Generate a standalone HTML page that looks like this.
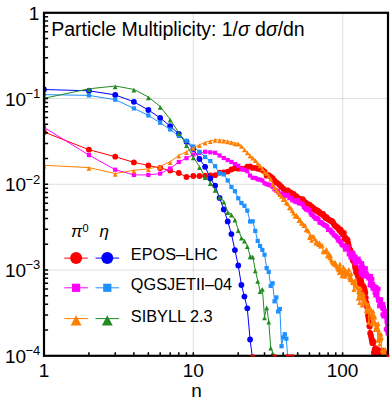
<!DOCTYPE html>
<html><head><meta charset="utf-8"><title>Particle Multiplicity</title>
<style>html,body{margin:0;padding:0;background:#fff;}body{width:390px;height:405px;overflow:hidden;font-family:"Liberation Sans",sans-serif;}</style>
</head><body>
<svg width="390" height="405" viewBox="0 0 390 405" style="display:block;font-family:'Liberation Sans',sans-serif">
<rect width="390" height="405" fill="#fff"/>
<path d="M44.0 98.55H388.0M44.0 184.30H388.0M44.0 270.05H388.0M193.30 12.8V355.8M342.60 12.8V355.8" stroke="#000" stroke-opacity="0.13" stroke-width="1" fill="none"/>
<defs><clipPath id="cp"><rect x="44.0" y="12.8" width="344.0" height="343.0"/></clipPath></defs>
<g clip-path="url(#cp)">
<path d="M44.00 132.00L88.94 149.70L115.23 156.70L133.89 162.40L148.36 165.40L160.18 168.00L170.17 170.50L178.83 173.00L186.47 177.00L193.30 176.00L199.48 176.00L205.12 175.69L210.31 175.40L215.12 175.20L219.59 172.66L223.78 172.49L227.71 171.62L231.41 169.51L234.92 168.26L238.24 168.70L241.41 168.60L244.42 168.82L247.31 166.72L250.07 166.42L252.71 167.89L255.26 167.78L257.70 168.69L260.06 169.11L262.34 170.02L264.53 171.60L266.66 175.63L268.72 175.24L270.71 176.62L272.65 178.07L274.53 180.74L276.36 182.41L278.13 183.58L279.86 185.21L281.55 186.85L283.19 188.53L284.79 190.15L286.35 190.72L287.88 190.36L289.37 193.35L290.82 192.46L292.25 194.26L293.64 193.99L295.01 195.93L296.35 196.06L297.66 197.58L298.94 200.13L300.20 198.79L301.43 200.19L302.65 199.21L303.84 200.95L305.00 202.60L306.15 202.88L307.28 204.11L308.39 204.75L309.48 204.70L310.55 206.77L311.60 206.48L312.64 209.42L313.66 208.19L314.67 209.73L315.66 209.77L316.63 211.10L317.59 210.43L318.54 212.27L319.47 211.92L320.39 213.57L321.30 213.70L322.19 214.04L323.08 214.02L323.95 215.96L324.81 216.42L325.65 218.05L326.49 217.11L327.32 218.53L328.13 219.15L328.94 219.62L329.73 220.21L330.52 220.82L331.29 220.83L332.06 221.12L332.82 222.23L333.57 223.62L334.31 225.03L335.04 225.35L335.77 226.15L336.48 226.67L337.19 227.33L337.89 227.64L338.59 228.82L339.27 230.32L339.95 229.33L340.63 229.73L341.29 232.53L341.95 231.84L342.60 233.74L343.25 234.67L343.88 232.99L344.52 238.88L345.14 239.02L345.76 237.78L346.38 239.60L346.99 239.67L347.59 240.00L348.19 243.00L348.78 245.58L349.37 248.57L349.95 249.74L350.52 250.55L351.10 254.75L351.66 253.28L352.22 257.93L352.78 260.51L353.33 260.08L353.88 259.39L354.42 262.69L354.96 266.45L355.49 268.67L356.02 272.26L356.55 269.10L357.07 272.65L357.59 275.46L358.10 275.08L358.61 271.84L359.11 279.39L359.61 283.67L360.11 282.17L360.60 279.26L361.09 281.22L361.58 283.48L362.06 289.31L362.54 286.14L363.01 285.92L363.48 290.05L363.95 287.23L364.42 293.76L364.88 290.08L365.34 292.73L365.79 297.72L366.24 302.45L366.69 304.35L367.14 307.22L367.58 307.25L368.02 315.33L368.46 318.02L368.89 320.63L369.32 325.91L369.75 326.56L370.17 332.97L370.60 334.56L371.02 335.79L371.43 338.32L371.85 340.48L372.26 342.97L372.67 340.58L373.08 343.22L373.48 342.04L373.88 352.47L374.28 353.30L374.68 349.50L375.07 349.51L375.46 348.14L375.85 353.17L376.24 354.57L376.62 362.09L377.01 357.75L377.39 354.68L377.76 349.56L378.14 361.61L378.51 357.87L378.89 352.23L379.26 357.99L379.62 352.29L379.99 365.67L380.35 361.27L380.71 359.56L381.07 357.16L381.43 350.64L381.78 357.44L382.14 352.65L382.49 360.04L382.84 350.68L383.19 354.97L383.53 362.46L383.88 364.04L384.22 354.12L384.56 352.89L384.90 361.60L385.23 361.59L385.57 354.96L385.90 356.07L386.23 356.11L386.56 354.31L386.89 356.25L387.22 363.58L387.54 361.54L387.87 366.84" stroke="#ff0000" stroke-width="1" fill="none" stroke-linejoin="round"/>
<g><circle cx="44.00" cy="132.00" r="2.90" fill="#ff0000"/><circle cx="88.94" cy="149.70" r="2.90" fill="#ff0000"/><circle cx="115.23" cy="156.70" r="2.90" fill="#ff0000"/><circle cx="133.89" cy="162.40" r="2.90" fill="#ff0000"/><circle cx="148.36" cy="165.40" r="2.90" fill="#ff0000"/><circle cx="160.18" cy="168.00" r="2.90" fill="#ff0000"/><circle cx="170.17" cy="170.50" r="2.90" fill="#ff0000"/><circle cx="178.83" cy="173.00" r="2.90" fill="#ff0000"/><circle cx="186.47" cy="177.00" r="2.90" fill="#ff0000"/><circle cx="193.30" cy="176.00" r="2.90" fill="#ff0000"/><circle cx="199.48" cy="176.00" r="2.90" fill="#ff0000"/><circle cx="205.12" cy="175.69" r="2.90" fill="#ff0000"/><circle cx="210.31" cy="175.40" r="2.90" fill="#ff0000"/><circle cx="215.12" cy="175.20" r="2.90" fill="#ff0000"/><circle cx="219.59" cy="172.66" r="2.90" fill="#ff0000"/><circle cx="223.78" cy="172.49" r="2.90" fill="#ff0000"/><circle cx="227.71" cy="171.62" r="2.90" fill="#ff0000"/><circle cx="231.41" cy="169.51" r="2.90" fill="#ff0000"/><circle cx="234.92" cy="168.26" r="2.90" fill="#ff0000"/><circle cx="238.24" cy="168.70" r="2.90" fill="#ff0000"/><circle cx="241.41" cy="168.60" r="2.90" fill="#ff0000"/><circle cx="244.42" cy="168.82" r="2.90" fill="#ff0000"/><circle cx="247.31" cy="166.72" r="2.90" fill="#ff0000"/><circle cx="250.07" cy="166.42" r="2.90" fill="#ff0000"/><circle cx="252.71" cy="167.89" r="2.90" fill="#ff0000"/><circle cx="255.26" cy="167.78" r="2.90" fill="#ff0000"/><circle cx="257.70" cy="168.69" r="2.90" fill="#ff0000"/><circle cx="260.06" cy="169.11" r="2.90" fill="#ff0000"/><circle cx="262.34" cy="170.02" r="2.90" fill="#ff0000"/><circle cx="264.53" cy="171.60" r="2.90" fill="#ff0000"/><circle cx="266.66" cy="175.63" r="2.90" fill="#ff0000"/><circle cx="268.72" cy="175.24" r="2.90" fill="#ff0000"/><circle cx="270.71" cy="176.62" r="2.90" fill="#ff0000"/><circle cx="272.65" cy="178.07" r="2.90" fill="#ff0000"/><circle cx="274.53" cy="180.74" r="2.90" fill="#ff0000"/><circle cx="276.36" cy="182.41" r="2.90" fill="#ff0000"/><circle cx="278.13" cy="183.58" r="2.90" fill="#ff0000"/><circle cx="279.86" cy="185.21" r="2.90" fill="#ff0000"/><circle cx="281.55" cy="186.85" r="2.90" fill="#ff0000"/><circle cx="283.19" cy="188.53" r="2.90" fill="#ff0000"/><circle cx="284.79" cy="190.15" r="2.90" fill="#ff0000"/><circle cx="286.35" cy="190.72" r="2.90" fill="#ff0000"/><circle cx="287.88" cy="190.36" r="2.90" fill="#ff0000"/><circle cx="289.37" cy="193.35" r="2.90" fill="#ff0000"/><circle cx="290.82" cy="192.46" r="2.90" fill="#ff0000"/><circle cx="292.25" cy="194.26" r="2.90" fill="#ff0000"/><circle cx="293.64" cy="193.99" r="2.90" fill="#ff0000"/><circle cx="295.01" cy="195.93" r="2.90" fill="#ff0000"/><circle cx="296.35" cy="196.06" r="2.90" fill="#ff0000"/><circle cx="297.66" cy="197.58" r="2.90" fill="#ff0000"/><circle cx="298.94" cy="200.13" r="2.90" fill="#ff0000"/><circle cx="300.20" cy="198.79" r="2.90" fill="#ff0000"/><circle cx="301.43" cy="200.19" r="2.90" fill="#ff0000"/><circle cx="302.65" cy="199.21" r="2.90" fill="#ff0000"/><circle cx="303.84" cy="200.95" r="2.90" fill="#ff0000"/><circle cx="305.00" cy="202.60" r="2.90" fill="#ff0000"/><circle cx="306.15" cy="202.88" r="2.90" fill="#ff0000"/><circle cx="307.28" cy="204.11" r="2.90" fill="#ff0000"/><circle cx="308.39" cy="204.75" r="2.90" fill="#ff0000"/><circle cx="309.48" cy="204.70" r="2.90" fill="#ff0000"/><circle cx="310.55" cy="206.77" r="2.90" fill="#ff0000"/><circle cx="311.60" cy="206.48" r="2.90" fill="#ff0000"/><circle cx="312.64" cy="209.42" r="2.90" fill="#ff0000"/><circle cx="313.66" cy="208.19" r="2.90" fill="#ff0000"/><circle cx="314.67" cy="209.73" r="2.90" fill="#ff0000"/><circle cx="315.66" cy="209.77" r="2.90" fill="#ff0000"/><circle cx="316.63" cy="211.10" r="2.90" fill="#ff0000"/><circle cx="317.59" cy="210.43" r="2.90" fill="#ff0000"/><circle cx="318.54" cy="212.27" r="2.90" fill="#ff0000"/><circle cx="319.47" cy="211.92" r="2.90" fill="#ff0000"/><circle cx="320.39" cy="213.57" r="2.90" fill="#ff0000"/><circle cx="321.30" cy="213.70" r="2.90" fill="#ff0000"/><circle cx="322.19" cy="214.04" r="2.90" fill="#ff0000"/><circle cx="323.08" cy="214.02" r="2.90" fill="#ff0000"/><circle cx="323.95" cy="215.96" r="2.90" fill="#ff0000"/><circle cx="324.81" cy="216.42" r="2.90" fill="#ff0000"/><circle cx="325.65" cy="218.05" r="2.90" fill="#ff0000"/><circle cx="326.49" cy="217.11" r="2.90" fill="#ff0000"/><circle cx="327.32" cy="218.53" r="2.90" fill="#ff0000"/><circle cx="328.13" cy="219.15" r="2.90" fill="#ff0000"/><circle cx="328.94" cy="219.62" r="2.90" fill="#ff0000"/><circle cx="329.73" cy="220.21" r="2.90" fill="#ff0000"/><circle cx="330.52" cy="220.82" r="2.90" fill="#ff0000"/><circle cx="331.29" cy="220.83" r="2.90" fill="#ff0000"/><circle cx="332.06" cy="221.12" r="2.90" fill="#ff0000"/><circle cx="332.82" cy="222.23" r="2.90" fill="#ff0000"/><circle cx="333.57" cy="223.62" r="2.90" fill="#ff0000"/><circle cx="334.31" cy="225.03" r="2.90" fill="#ff0000"/><circle cx="335.04" cy="225.35" r="2.90" fill="#ff0000"/><circle cx="335.77" cy="226.15" r="2.90" fill="#ff0000"/><circle cx="336.48" cy="226.67" r="2.90" fill="#ff0000"/><circle cx="337.19" cy="227.33" r="2.90" fill="#ff0000"/><circle cx="337.89" cy="227.64" r="2.90" fill="#ff0000"/><circle cx="338.59" cy="228.82" r="2.90" fill="#ff0000"/><circle cx="339.27" cy="230.32" r="2.90" fill="#ff0000"/><circle cx="339.95" cy="229.33" r="2.90" fill="#ff0000"/><circle cx="340.63" cy="229.73" r="2.90" fill="#ff0000"/><circle cx="341.29" cy="232.53" r="2.90" fill="#ff0000"/><circle cx="341.95" cy="231.84" r="2.90" fill="#ff0000"/><circle cx="342.60" cy="233.74" r="2.90" fill="#ff0000"/><circle cx="343.25" cy="234.67" r="2.90" fill="#ff0000"/><circle cx="343.88" cy="232.99" r="2.90" fill="#ff0000"/><circle cx="344.52" cy="238.88" r="2.90" fill="#ff0000"/><circle cx="345.14" cy="239.02" r="2.90" fill="#ff0000"/><circle cx="345.76" cy="237.78" r="2.90" fill="#ff0000"/><circle cx="346.38" cy="239.60" r="2.90" fill="#ff0000"/><circle cx="346.99" cy="239.67" r="2.90" fill="#ff0000"/><circle cx="347.59" cy="240.00" r="2.90" fill="#ff0000"/><circle cx="348.19" cy="243.00" r="2.90" fill="#ff0000"/><circle cx="348.78" cy="245.58" r="2.90" fill="#ff0000"/><circle cx="349.37" cy="248.57" r="2.90" fill="#ff0000"/><circle cx="349.95" cy="249.74" r="2.90" fill="#ff0000"/><circle cx="350.52" cy="250.55" r="2.90" fill="#ff0000"/><circle cx="351.10" cy="254.75" r="2.90" fill="#ff0000"/><circle cx="351.66" cy="253.28" r="2.90" fill="#ff0000"/><circle cx="352.22" cy="257.93" r="2.90" fill="#ff0000"/><circle cx="352.78" cy="260.51" r="2.90" fill="#ff0000"/><circle cx="353.33" cy="260.08" r="2.90" fill="#ff0000"/><circle cx="353.88" cy="259.39" r="2.90" fill="#ff0000"/><circle cx="354.42" cy="262.69" r="2.90" fill="#ff0000"/><circle cx="354.96" cy="266.45" r="2.90" fill="#ff0000"/><circle cx="355.49" cy="268.67" r="2.90" fill="#ff0000"/><circle cx="356.02" cy="272.26" r="2.90" fill="#ff0000"/><circle cx="356.55" cy="269.10" r="2.90" fill="#ff0000"/><circle cx="357.07" cy="272.65" r="2.90" fill="#ff0000"/><circle cx="357.59" cy="275.46" r="2.90" fill="#ff0000"/><circle cx="358.10" cy="275.08" r="2.90" fill="#ff0000"/><circle cx="358.61" cy="271.84" r="2.90" fill="#ff0000"/><circle cx="359.11" cy="279.39" r="2.90" fill="#ff0000"/><circle cx="359.61" cy="283.67" r="2.90" fill="#ff0000"/><circle cx="360.11" cy="282.17" r="2.90" fill="#ff0000"/><circle cx="360.60" cy="279.26" r="2.90" fill="#ff0000"/><circle cx="361.09" cy="281.22" r="2.90" fill="#ff0000"/><circle cx="361.58" cy="283.48" r="2.90" fill="#ff0000"/><circle cx="362.06" cy="289.31" r="2.90" fill="#ff0000"/><circle cx="362.54" cy="286.14" r="2.90" fill="#ff0000"/><circle cx="363.01" cy="285.92" r="2.90" fill="#ff0000"/><circle cx="363.48" cy="290.05" r="2.90" fill="#ff0000"/><circle cx="363.95" cy="287.23" r="2.90" fill="#ff0000"/><circle cx="364.42" cy="293.76" r="2.90" fill="#ff0000"/><circle cx="364.88" cy="290.08" r="2.90" fill="#ff0000"/><circle cx="365.34" cy="292.73" r="2.90" fill="#ff0000"/><circle cx="365.79" cy="297.72" r="2.90" fill="#ff0000"/><circle cx="366.24" cy="302.45" r="2.90" fill="#ff0000"/><circle cx="366.69" cy="304.35" r="2.90" fill="#ff0000"/><circle cx="367.14" cy="307.22" r="2.90" fill="#ff0000"/><circle cx="367.58" cy="307.25" r="2.90" fill="#ff0000"/><circle cx="368.02" cy="315.33" r="2.90" fill="#ff0000"/><circle cx="368.46" cy="318.02" r="2.90" fill="#ff0000"/><circle cx="368.89" cy="320.63" r="2.90" fill="#ff0000"/><circle cx="369.32" cy="325.91" r="2.90" fill="#ff0000"/><circle cx="369.75" cy="326.56" r="2.90" fill="#ff0000"/><circle cx="370.17" cy="332.97" r="2.90" fill="#ff0000"/><circle cx="370.60" cy="334.56" r="2.90" fill="#ff0000"/><circle cx="371.02" cy="335.79" r="2.90" fill="#ff0000"/><circle cx="371.43" cy="338.32" r="2.90" fill="#ff0000"/><circle cx="371.85" cy="340.48" r="2.90" fill="#ff0000"/><circle cx="372.26" cy="342.97" r="2.90" fill="#ff0000"/><circle cx="372.67" cy="340.58" r="2.90" fill="#ff0000"/><circle cx="373.08" cy="343.22" r="2.90" fill="#ff0000"/><circle cx="373.48" cy="342.04" r="2.90" fill="#ff0000"/><circle cx="373.88" cy="352.47" r="2.90" fill="#ff0000"/><circle cx="374.28" cy="353.30" r="2.90" fill="#ff0000"/><circle cx="374.68" cy="349.50" r="2.90" fill="#ff0000"/><circle cx="375.07" cy="349.51" r="2.90" fill="#ff0000"/><circle cx="375.46" cy="348.14" r="2.90" fill="#ff0000"/><circle cx="375.85" cy="353.17" r="2.90" fill="#ff0000"/><circle cx="376.24" cy="354.57" r="2.90" fill="#ff0000"/><circle cx="376.62" cy="362.09" r="2.90" fill="#ff0000"/><circle cx="377.01" cy="357.75" r="2.90" fill="#ff0000"/><circle cx="377.39" cy="354.68" r="2.90" fill="#ff0000"/><circle cx="377.76" cy="349.56" r="2.90" fill="#ff0000"/><circle cx="378.14" cy="361.61" r="2.90" fill="#ff0000"/><circle cx="378.51" cy="357.87" r="2.90" fill="#ff0000"/><circle cx="378.89" cy="352.23" r="2.90" fill="#ff0000"/><circle cx="379.26" cy="357.99" r="2.90" fill="#ff0000"/><circle cx="379.62" cy="352.29" r="2.90" fill="#ff0000"/><circle cx="379.99" cy="365.67" r="2.90" fill="#ff0000"/><circle cx="380.35" cy="361.27" r="2.90" fill="#ff0000"/><circle cx="380.71" cy="359.56" r="2.90" fill="#ff0000"/><circle cx="381.07" cy="357.16" r="2.90" fill="#ff0000"/><circle cx="381.43" cy="350.64" r="2.90" fill="#ff0000"/><circle cx="381.78" cy="357.44" r="2.90" fill="#ff0000"/><circle cx="382.14" cy="352.65" r="2.90" fill="#ff0000"/><circle cx="382.49" cy="360.04" r="2.90" fill="#ff0000"/><circle cx="382.84" cy="350.68" r="2.90" fill="#ff0000"/><circle cx="383.19" cy="354.97" r="2.90" fill="#ff0000"/><circle cx="383.53" cy="362.46" r="2.90" fill="#ff0000"/><circle cx="383.88" cy="364.04" r="2.90" fill="#ff0000"/><circle cx="384.22" cy="354.12" r="2.90" fill="#ff0000"/><circle cx="384.56" cy="352.89" r="2.90" fill="#ff0000"/><circle cx="384.90" cy="361.60" r="2.90" fill="#ff0000"/><circle cx="385.23" cy="361.59" r="2.90" fill="#ff0000"/><circle cx="385.57" cy="354.96" r="2.90" fill="#ff0000"/><circle cx="385.90" cy="356.07" r="2.90" fill="#ff0000"/><circle cx="386.23" cy="356.11" r="2.90" fill="#ff0000"/><circle cx="386.56" cy="354.31" r="2.90" fill="#ff0000"/><circle cx="386.89" cy="356.25" r="2.90" fill="#ff0000"/><circle cx="387.22" cy="363.58" r="2.90" fill="#ff0000"/><circle cx="387.54" cy="361.54" r="2.90" fill="#ff0000"/><circle cx="387.87" cy="366.84" r="2.90" fill="#ff0000"/></g>
<path d="M44.00 89.50L88.94 90.80L115.23 94.90L133.89 101.80L148.36 110.00L160.18 117.90L170.17 126.20L178.83 133.80L186.47 141.70L193.30 148.90L199.48 159.00L205.12 166.80L210.31 178.50L215.12 185.60L219.59 197.90L223.78 209.40L227.71 221.40L231.41 234.10L234.92 250.10L238.24 265.50L241.41 285.00L244.42 296.60L247.31 308.30L250.07 339.50L252.71 360.00" stroke="#0000ff" stroke-width="1" fill="none" stroke-linejoin="round"/>
<g><circle cx="44.00" cy="89.50" r="2.90" fill="#0000ff"/><circle cx="88.94" cy="90.80" r="2.90" fill="#0000ff"/><circle cx="115.23" cy="94.90" r="2.90" fill="#0000ff"/><circle cx="133.89" cy="101.80" r="2.90" fill="#0000ff"/><circle cx="148.36" cy="110.00" r="2.90" fill="#0000ff"/><circle cx="160.18" cy="117.90" r="2.90" fill="#0000ff"/><circle cx="170.17" cy="126.20" r="2.90" fill="#0000ff"/><circle cx="178.83" cy="133.80" r="2.90" fill="#0000ff"/><circle cx="186.47" cy="141.70" r="2.90" fill="#0000ff"/><circle cx="193.30" cy="148.90" r="2.90" fill="#0000ff"/><circle cx="199.48" cy="159.00" r="2.90" fill="#0000ff"/><circle cx="205.12" cy="166.80" r="2.90" fill="#0000ff"/><circle cx="210.31" cy="178.50" r="2.90" fill="#0000ff"/><circle cx="215.12" cy="185.60" r="2.90" fill="#0000ff"/><circle cx="219.59" cy="197.90" r="2.90" fill="#0000ff"/><circle cx="223.78" cy="209.40" r="2.90" fill="#0000ff"/><circle cx="227.71" cy="221.40" r="2.90" fill="#0000ff"/><circle cx="231.41" cy="234.10" r="2.90" fill="#0000ff"/><circle cx="234.92" cy="250.10" r="2.90" fill="#0000ff"/><circle cx="238.24" cy="265.50" r="2.90" fill="#0000ff"/><circle cx="241.41" cy="285.00" r="2.90" fill="#0000ff"/><circle cx="244.42" cy="296.60" r="2.90" fill="#0000ff"/><circle cx="247.31" cy="308.30" r="2.90" fill="#0000ff"/><circle cx="250.07" cy="339.50" r="2.90" fill="#0000ff"/><circle cx="252.71" cy="360.00" r="2.90" fill="#0000ff"/></g>
<path d="M44.00 127.40L88.94 155.10L115.23 169.70L133.89 174.90L148.36 174.90L160.18 173.60L170.17 168.50L178.83 162.00L186.47 158.20L193.30 154.50L199.48 153.09L205.12 151.80L210.31 152.32L215.12 152.80L219.59 155.49L223.78 158.00L227.71 160.06L231.41 161.92L234.92 164.09L238.24 165.76L241.41 169.01L244.42 169.82L247.31 171.26L250.07 175.55L252.71 177.76L255.26 178.04L257.70 179.38L260.06 179.63L262.34 180.54L264.53 183.17L266.66 184.21L268.72 184.74L270.71 185.39L272.65 186.80L274.53 189.38L276.36 190.59L278.13 190.99L279.86 193.89L281.55 193.57L283.19 194.76L284.79 196.17L286.35 195.15L287.88 194.90L289.37 198.15L290.82 197.66L292.25 200.24L293.64 200.14L295.01 201.49L296.35 202.01L297.66 200.17L298.94 203.40L300.20 202.84L301.43 203.44L302.65 204.57L303.84 206.90L305.00 208.23L306.15 209.54L307.28 208.32L308.39 210.44L309.48 209.98L310.55 213.14L311.60 214.88L312.64 214.74L313.66 216.55L314.67 217.33L315.66 218.82L316.63 217.95L317.59 218.71L318.54 219.52L319.47 222.52L320.39 222.66L321.30 222.32L322.19 223.42L323.08 224.08L323.95 224.92L324.81 225.30L325.65 225.92L326.49 225.82L327.32 227.09L328.13 229.86L328.94 229.56L329.73 229.83L330.52 230.43L331.29 231.61L332.06 232.79L332.82 232.80L333.57 234.46L334.31 235.39L335.04 235.38L335.77 236.21L336.48 236.88L337.19 237.68L337.89 240.27L338.59 238.18L339.27 240.89L339.95 241.39L340.63 242.13L341.29 243.51L341.95 245.16L342.60 245.02L343.25 245.29L343.88 245.02L344.52 246.71L345.14 249.60L345.76 247.51L346.38 246.53L346.99 246.91L347.59 247.89L348.19 247.92L348.78 254.32L349.37 253.34L349.95 252.66L350.52 257.41L351.10 253.03L351.66 257.16L352.22 257.99L352.78 252.80L353.33 253.40L353.88 255.64L354.42 261.04L354.96 262.75L355.49 256.73L356.02 263.47L356.55 260.27L357.07 260.88L357.59 261.07L358.10 262.34L358.61 258.72L359.11 261.64L359.61 261.56L360.11 267.20L360.60 272.60L361.09 274.56L361.58 266.74L362.06 263.16L362.54 267.82L363.01 266.80L363.48 276.60L363.95 272.82L364.42 269.32L364.88 275.31L365.34 274.66L365.79 268.27L366.24 272.56L366.69 274.23L367.14 275.79L367.58 276.87L368.02 275.94L368.46 278.45L368.89 276.42L369.32 275.99L369.75 285.22L370.17 281.78L370.60 282.75L371.02 276.04L371.43 281.94L371.85 286.29L372.26 279.10L372.67 288.75L373.08 283.81L373.48 287.51L373.88 286.12L374.28 288.15L374.68 292.68L375.07 287.02L375.46 295.50L375.85 286.96L376.24 287.24L376.62 294.81L377.01 288.45L377.39 292.19L377.76 298.38L378.14 300.57L378.51 288.89L378.89 299.41L379.26 306.26L379.62 304.66L379.99 299.77L380.35 299.49L380.71 302.10L381.07 299.58L381.43 304.78L381.78 306.39L382.14 307.66L382.49 314.53L382.84 308.92L383.19 304.07L383.53 316.48L383.88 307.40L384.22 311.12L384.56 313.39L384.90 313.18L385.23 310.80L385.57 315.71L385.90 329.30L386.23 317.53L386.56 321.60L386.89 329.59L387.22 329.49L387.54 331.36L387.87 333.62" stroke="#ff00ff" stroke-width="1" fill="none" stroke-linejoin="round"/>
<g><rect x="41.90" y="125.30" width="4.20" height="4.20" fill="#ff00ff"/><rect x="86.84" y="153.00" width="4.20" height="4.20" fill="#ff00ff"/><rect x="113.13" y="167.60" width="4.20" height="4.20" fill="#ff00ff"/><rect x="131.79" y="172.80" width="4.20" height="4.20" fill="#ff00ff"/><rect x="146.26" y="172.80" width="4.20" height="4.20" fill="#ff00ff"/><rect x="158.08" y="171.50" width="4.20" height="4.20" fill="#ff00ff"/><rect x="168.07" y="166.40" width="4.20" height="4.20" fill="#ff00ff"/><rect x="176.73" y="159.90" width="4.20" height="4.20" fill="#ff00ff"/><rect x="184.37" y="156.10" width="4.20" height="4.20" fill="#ff00ff"/><rect x="191.20" y="152.40" width="4.20" height="4.20" fill="#ff00ff"/><rect x="197.38" y="150.99" width="4.20" height="4.20" fill="#ff00ff"/><rect x="203.02" y="149.70" width="4.20" height="4.20" fill="#ff00ff"/><rect x="208.21" y="150.22" width="4.20" height="4.20" fill="#ff00ff"/><rect x="213.02" y="150.70" width="4.20" height="4.20" fill="#ff00ff"/><rect x="217.49" y="153.39" width="4.20" height="4.20" fill="#ff00ff"/><rect x="221.68" y="155.90" width="4.20" height="4.20" fill="#ff00ff"/><rect x="225.61" y="157.96" width="4.20" height="4.20" fill="#ff00ff"/><rect x="229.31" y="159.82" width="4.20" height="4.20" fill="#ff00ff"/><rect x="232.82" y="161.99" width="4.20" height="4.20" fill="#ff00ff"/><rect x="236.14" y="163.66" width="4.20" height="4.20" fill="#ff00ff"/><rect x="239.31" y="166.91" width="4.20" height="4.20" fill="#ff00ff"/><rect x="242.32" y="167.72" width="4.20" height="4.20" fill="#ff00ff"/><rect x="245.21" y="169.16" width="4.20" height="4.20" fill="#ff00ff"/><rect x="247.97" y="173.45" width="4.20" height="4.20" fill="#ff00ff"/><rect x="250.61" y="175.66" width="4.20" height="4.20" fill="#ff00ff"/><rect x="253.16" y="175.94" width="4.20" height="4.20" fill="#ff00ff"/><rect x="255.60" y="177.28" width="4.20" height="4.20" fill="#ff00ff"/><rect x="257.96" y="177.53" width="4.20" height="4.20" fill="#ff00ff"/><rect x="260.24" y="178.44" width="4.20" height="4.20" fill="#ff00ff"/><rect x="262.43" y="181.07" width="4.20" height="4.20" fill="#ff00ff"/><rect x="264.56" y="182.11" width="4.20" height="4.20" fill="#ff00ff"/><rect x="266.62" y="182.64" width="4.20" height="4.20" fill="#ff00ff"/><rect x="268.61" y="183.29" width="4.20" height="4.20" fill="#ff00ff"/><rect x="270.55" y="184.70" width="4.20" height="4.20" fill="#ff00ff"/><rect x="272.43" y="187.28" width="4.20" height="4.20" fill="#ff00ff"/><rect x="274.26" y="188.49" width="4.20" height="4.20" fill="#ff00ff"/><rect x="276.03" y="188.89" width="4.20" height="4.20" fill="#ff00ff"/><rect x="277.76" y="191.79" width="4.20" height="4.20" fill="#ff00ff"/><rect x="279.45" y="191.47" width="4.20" height="4.20" fill="#ff00ff"/><rect x="281.09" y="192.66" width="4.20" height="4.20" fill="#ff00ff"/><rect x="282.69" y="194.07" width="4.20" height="4.20" fill="#ff00ff"/><rect x="284.25" y="193.05" width="4.20" height="4.20" fill="#ff00ff"/><rect x="285.78" y="192.80" width="4.20" height="4.20" fill="#ff00ff"/><rect x="287.27" y="196.05" width="4.20" height="4.20" fill="#ff00ff"/><rect x="288.72" y="195.56" width="4.20" height="4.20" fill="#ff00ff"/><rect x="290.15" y="198.14" width="4.20" height="4.20" fill="#ff00ff"/><rect x="291.54" y="198.04" width="4.20" height="4.20" fill="#ff00ff"/><rect x="292.91" y="199.39" width="4.20" height="4.20" fill="#ff00ff"/><rect x="294.25" y="199.91" width="4.20" height="4.20" fill="#ff00ff"/><rect x="295.56" y="198.07" width="4.20" height="4.20" fill="#ff00ff"/><rect x="296.84" y="201.30" width="4.20" height="4.20" fill="#ff00ff"/><rect x="298.10" y="200.74" width="4.20" height="4.20" fill="#ff00ff"/><rect x="299.33" y="201.34" width="4.20" height="4.20" fill="#ff00ff"/><rect x="300.55" y="202.47" width="4.20" height="4.20" fill="#ff00ff"/><rect x="301.74" y="204.80" width="4.20" height="4.20" fill="#ff00ff"/><rect x="302.90" y="206.13" width="4.20" height="4.20" fill="#ff00ff"/><rect x="304.05" y="207.44" width="4.20" height="4.20" fill="#ff00ff"/><rect x="305.18" y="206.22" width="4.20" height="4.20" fill="#ff00ff"/><rect x="306.29" y="208.34" width="4.20" height="4.20" fill="#ff00ff"/><rect x="307.38" y="207.88" width="4.20" height="4.20" fill="#ff00ff"/><rect x="308.45" y="211.04" width="4.20" height="4.20" fill="#ff00ff"/><rect x="309.50" y="212.78" width="4.20" height="4.20" fill="#ff00ff"/><rect x="310.54" y="212.64" width="4.20" height="4.20" fill="#ff00ff"/><rect x="311.56" y="214.45" width="4.20" height="4.20" fill="#ff00ff"/><rect x="312.57" y="215.23" width="4.20" height="4.20" fill="#ff00ff"/><rect x="313.56" y="216.72" width="4.20" height="4.20" fill="#ff00ff"/><rect x="314.53" y="215.85" width="4.20" height="4.20" fill="#ff00ff"/><rect x="315.49" y="216.61" width="4.20" height="4.20" fill="#ff00ff"/><rect x="316.44" y="217.42" width="4.20" height="4.20" fill="#ff00ff"/><rect x="317.37" y="220.42" width="4.20" height="4.20" fill="#ff00ff"/><rect x="318.29" y="220.56" width="4.20" height="4.20" fill="#ff00ff"/><rect x="319.20" y="220.22" width="4.20" height="4.20" fill="#ff00ff"/><rect x="320.09" y="221.32" width="4.20" height="4.20" fill="#ff00ff"/><rect x="320.98" y="221.98" width="4.20" height="4.20" fill="#ff00ff"/><rect x="321.85" y="222.82" width="4.20" height="4.20" fill="#ff00ff"/><rect x="322.71" y="223.20" width="4.20" height="4.20" fill="#ff00ff"/><rect x="323.55" y="223.82" width="4.20" height="4.20" fill="#ff00ff"/><rect x="324.39" y="223.72" width="4.20" height="4.20" fill="#ff00ff"/><rect x="325.22" y="224.99" width="4.20" height="4.20" fill="#ff00ff"/><rect x="326.03" y="227.76" width="4.20" height="4.20" fill="#ff00ff"/><rect x="326.84" y="227.46" width="4.20" height="4.20" fill="#ff00ff"/><rect x="327.63" y="227.73" width="4.20" height="4.20" fill="#ff00ff"/><rect x="328.42" y="228.33" width="4.20" height="4.20" fill="#ff00ff"/><rect x="329.19" y="229.51" width="4.20" height="4.20" fill="#ff00ff"/><rect x="329.96" y="230.69" width="4.20" height="4.20" fill="#ff00ff"/><rect x="330.72" y="230.70" width="4.20" height="4.20" fill="#ff00ff"/><rect x="331.47" y="232.36" width="4.20" height="4.20" fill="#ff00ff"/><rect x="332.21" y="233.29" width="4.20" height="4.20" fill="#ff00ff"/><rect x="332.94" y="233.28" width="4.20" height="4.20" fill="#ff00ff"/><rect x="333.67" y="234.11" width="4.20" height="4.20" fill="#ff00ff"/><rect x="334.38" y="234.78" width="4.20" height="4.20" fill="#ff00ff"/><rect x="335.09" y="235.58" width="4.20" height="4.20" fill="#ff00ff"/><rect x="335.79" y="238.17" width="4.20" height="4.20" fill="#ff00ff"/><rect x="336.49" y="236.08" width="4.20" height="4.20" fill="#ff00ff"/><rect x="337.17" y="238.79" width="4.20" height="4.20" fill="#ff00ff"/><rect x="337.85" y="239.29" width="4.20" height="4.20" fill="#ff00ff"/><rect x="338.53" y="240.03" width="4.20" height="4.20" fill="#ff00ff"/><rect x="339.19" y="241.41" width="4.20" height="4.20" fill="#ff00ff"/><rect x="339.85" y="243.06" width="4.20" height="4.20" fill="#ff00ff"/><rect x="340.50" y="242.92" width="4.20" height="4.20" fill="#ff00ff"/><rect x="341.15" y="243.19" width="4.20" height="4.20" fill="#ff00ff"/><rect x="341.78" y="242.92" width="4.20" height="4.20" fill="#ff00ff"/><rect x="342.42" y="244.61" width="4.20" height="4.20" fill="#ff00ff"/><rect x="343.04" y="247.50" width="4.20" height="4.20" fill="#ff00ff"/><rect x="343.66" y="245.41" width="4.20" height="4.20" fill="#ff00ff"/><rect x="344.28" y="244.43" width="4.20" height="4.20" fill="#ff00ff"/><rect x="344.89" y="244.81" width="4.20" height="4.20" fill="#ff00ff"/><rect x="345.49" y="245.79" width="4.20" height="4.20" fill="#ff00ff"/><rect x="346.09" y="245.82" width="4.20" height="4.20" fill="#ff00ff"/><rect x="346.68" y="252.22" width="4.20" height="4.20" fill="#ff00ff"/><rect x="347.27" y="251.24" width="4.20" height="4.20" fill="#ff00ff"/><rect x="347.85" y="250.56" width="4.20" height="4.20" fill="#ff00ff"/><rect x="348.42" y="255.31" width="4.20" height="4.20" fill="#ff00ff"/><rect x="349.00" y="250.93" width="4.20" height="4.20" fill="#ff00ff"/><rect x="349.56" y="255.06" width="4.20" height="4.20" fill="#ff00ff"/><rect x="350.12" y="255.89" width="4.20" height="4.20" fill="#ff00ff"/><rect x="350.68" y="250.70" width="4.20" height="4.20" fill="#ff00ff"/><rect x="351.23" y="251.30" width="4.20" height="4.20" fill="#ff00ff"/><rect x="351.78" y="253.54" width="4.20" height="4.20" fill="#ff00ff"/><rect x="352.32" y="258.94" width="4.20" height="4.20" fill="#ff00ff"/><rect x="352.86" y="260.65" width="4.20" height="4.20" fill="#ff00ff"/><rect x="353.39" y="254.63" width="4.20" height="4.20" fill="#ff00ff"/><rect x="353.92" y="261.37" width="4.20" height="4.20" fill="#ff00ff"/><rect x="354.45" y="258.17" width="4.20" height="4.20" fill="#ff00ff"/><rect x="354.97" y="258.78" width="4.20" height="4.20" fill="#ff00ff"/><rect x="355.49" y="258.97" width="4.20" height="4.20" fill="#ff00ff"/><rect x="356.00" y="260.24" width="4.20" height="4.20" fill="#ff00ff"/><rect x="356.51" y="256.62" width="4.20" height="4.20" fill="#ff00ff"/><rect x="357.01" y="259.54" width="4.20" height="4.20" fill="#ff00ff"/><rect x="357.51" y="259.46" width="4.20" height="4.20" fill="#ff00ff"/><rect x="358.01" y="265.10" width="4.20" height="4.20" fill="#ff00ff"/><rect x="358.50" y="270.50" width="4.20" height="4.20" fill="#ff00ff"/><rect x="358.99" y="272.46" width="4.20" height="4.20" fill="#ff00ff"/><rect x="359.48" y="264.64" width="4.20" height="4.20" fill="#ff00ff"/><rect x="359.96" y="261.06" width="4.20" height="4.20" fill="#ff00ff"/><rect x="360.44" y="265.72" width="4.20" height="4.20" fill="#ff00ff"/><rect x="360.91" y="264.70" width="4.20" height="4.20" fill="#ff00ff"/><rect x="361.38" y="274.50" width="4.20" height="4.20" fill="#ff00ff"/><rect x="361.85" y="270.72" width="4.20" height="4.20" fill="#ff00ff"/><rect x="362.32" y="267.22" width="4.20" height="4.20" fill="#ff00ff"/><rect x="362.78" y="273.21" width="4.20" height="4.20" fill="#ff00ff"/><rect x="363.24" y="272.56" width="4.20" height="4.20" fill="#ff00ff"/><rect x="363.69" y="266.17" width="4.20" height="4.20" fill="#ff00ff"/><rect x="364.14" y="270.46" width="4.20" height="4.20" fill="#ff00ff"/><rect x="364.59" y="272.13" width="4.20" height="4.20" fill="#ff00ff"/><rect x="365.04" y="273.69" width="4.20" height="4.20" fill="#ff00ff"/><rect x="365.48" y="274.77" width="4.20" height="4.20" fill="#ff00ff"/><rect x="365.92" y="273.84" width="4.20" height="4.20" fill="#ff00ff"/><rect x="366.36" y="276.35" width="4.20" height="4.20" fill="#ff00ff"/><rect x="366.79" y="274.32" width="4.20" height="4.20" fill="#ff00ff"/><rect x="367.22" y="273.89" width="4.20" height="4.20" fill="#ff00ff"/><rect x="367.65" y="283.12" width="4.20" height="4.20" fill="#ff00ff"/><rect x="368.07" y="279.68" width="4.20" height="4.20" fill="#ff00ff"/><rect x="368.50" y="280.65" width="4.20" height="4.20" fill="#ff00ff"/><rect x="368.92" y="273.94" width="4.20" height="4.20" fill="#ff00ff"/><rect x="369.33" y="279.84" width="4.20" height="4.20" fill="#ff00ff"/><rect x="369.75" y="284.19" width="4.20" height="4.20" fill="#ff00ff"/><rect x="370.16" y="277.00" width="4.20" height="4.20" fill="#ff00ff"/><rect x="370.57" y="286.65" width="4.20" height="4.20" fill="#ff00ff"/><rect x="370.98" y="281.71" width="4.20" height="4.20" fill="#ff00ff"/><rect x="371.38" y="285.41" width="4.20" height="4.20" fill="#ff00ff"/><rect x="371.78" y="284.02" width="4.20" height="4.20" fill="#ff00ff"/><rect x="372.18" y="286.05" width="4.20" height="4.20" fill="#ff00ff"/><rect x="372.58" y="290.58" width="4.20" height="4.20" fill="#ff00ff"/><rect x="372.97" y="284.92" width="4.20" height="4.20" fill="#ff00ff"/><rect x="373.36" y="293.40" width="4.20" height="4.20" fill="#ff00ff"/><rect x="373.75" y="284.86" width="4.20" height="4.20" fill="#ff00ff"/><rect x="374.14" y="285.14" width="4.20" height="4.20" fill="#ff00ff"/><rect x="374.52" y="292.71" width="4.20" height="4.20" fill="#ff00ff"/><rect x="374.91" y="286.35" width="4.20" height="4.20" fill="#ff00ff"/><rect x="375.29" y="290.09" width="4.20" height="4.20" fill="#ff00ff"/><rect x="375.66" y="296.28" width="4.20" height="4.20" fill="#ff00ff"/><rect x="376.04" y="298.47" width="4.20" height="4.20" fill="#ff00ff"/><rect x="376.41" y="286.79" width="4.20" height="4.20" fill="#ff00ff"/><rect x="376.79" y="297.31" width="4.20" height="4.20" fill="#ff00ff"/><rect x="377.16" y="304.16" width="4.20" height="4.20" fill="#ff00ff"/><rect x="377.52" y="302.56" width="4.20" height="4.20" fill="#ff00ff"/><rect x="377.89" y="297.67" width="4.20" height="4.20" fill="#ff00ff"/><rect x="378.25" y="297.39" width="4.20" height="4.20" fill="#ff00ff"/><rect x="378.61" y="300.00" width="4.20" height="4.20" fill="#ff00ff"/><rect x="378.97" y="297.48" width="4.20" height="4.20" fill="#ff00ff"/><rect x="379.33" y="302.68" width="4.20" height="4.20" fill="#ff00ff"/><rect x="379.68" y="304.29" width="4.20" height="4.20" fill="#ff00ff"/><rect x="380.04" y="305.56" width="4.20" height="4.20" fill="#ff00ff"/><rect x="380.39" y="312.43" width="4.20" height="4.20" fill="#ff00ff"/><rect x="380.74" y="306.82" width="4.20" height="4.20" fill="#ff00ff"/><rect x="381.09" y="301.97" width="4.20" height="4.20" fill="#ff00ff"/><rect x="381.43" y="314.38" width="4.20" height="4.20" fill="#ff00ff"/><rect x="381.78" y="305.30" width="4.20" height="4.20" fill="#ff00ff"/><rect x="382.12" y="309.02" width="4.20" height="4.20" fill="#ff00ff"/><rect x="382.46" y="311.29" width="4.20" height="4.20" fill="#ff00ff"/><rect x="382.80" y="311.08" width="4.20" height="4.20" fill="#ff00ff"/><rect x="383.13" y="308.70" width="4.20" height="4.20" fill="#ff00ff"/><rect x="383.47" y="313.61" width="4.20" height="4.20" fill="#ff00ff"/><rect x="383.80" y="327.20" width="4.20" height="4.20" fill="#ff00ff"/><rect x="384.13" y="315.43" width="4.20" height="4.20" fill="#ff00ff"/><rect x="384.46" y="319.50" width="4.20" height="4.20" fill="#ff00ff"/><rect x="384.79" y="327.49" width="4.20" height="4.20" fill="#ff00ff"/><rect x="385.12" y="327.39" width="4.20" height="4.20" fill="#ff00ff"/><rect x="385.44" y="329.26" width="4.20" height="4.20" fill="#ff00ff"/><rect x="385.77" y="331.52" width="4.20" height="4.20" fill="#ff00ff"/></g>
<path d="M44.00 94.60L88.94 95.40L115.23 99.70L133.89 108.40L148.36 115.40L160.18 122.80L170.17 129.50L178.83 135.90L186.47 140.80L193.30 146.50L199.48 151.80L205.12 157.00L210.31 161.00L215.12 166.20L219.59 173.30L223.78 174.40L227.71 180.50L231.41 187.00L234.92 191.20L238.24 198.30L241.41 203.00L244.42 205.80L247.31 210.60L250.07 221.50L252.71 221.30L255.26 230.90L257.70 240.90L260.06 246.00L262.34 249.90L264.53 254.70L266.66 268.10L268.72 271.90L270.71 285.90L272.65 283.30L274.53 301.30L276.36 297.40L278.13 311.50L279.86 309.00L281.55 346.20L283.19 337.40L284.79 334.20L286.35 338.70L287.88 360.00" stroke="#1e90ff" stroke-width="1" fill="none" stroke-linejoin="round"/>
<g><rect x="41.90" y="92.50" width="4.20" height="4.20" fill="#1e90ff"/><rect x="86.84" y="93.30" width="4.20" height="4.20" fill="#1e90ff"/><rect x="113.13" y="97.60" width="4.20" height="4.20" fill="#1e90ff"/><rect x="131.79" y="106.30" width="4.20" height="4.20" fill="#1e90ff"/><rect x="146.26" y="113.30" width="4.20" height="4.20" fill="#1e90ff"/><rect x="158.08" y="120.70" width="4.20" height="4.20" fill="#1e90ff"/><rect x="168.07" y="127.40" width="4.20" height="4.20" fill="#1e90ff"/><rect x="176.73" y="133.80" width="4.20" height="4.20" fill="#1e90ff"/><rect x="184.37" y="138.70" width="4.20" height="4.20" fill="#1e90ff"/><rect x="191.20" y="144.40" width="4.20" height="4.20" fill="#1e90ff"/><rect x="197.38" y="149.70" width="4.20" height="4.20" fill="#1e90ff"/><rect x="203.02" y="154.90" width="4.20" height="4.20" fill="#1e90ff"/><rect x="208.21" y="158.90" width="4.20" height="4.20" fill="#1e90ff"/><rect x="213.02" y="164.10" width="4.20" height="4.20" fill="#1e90ff"/><rect x="217.49" y="171.20" width="4.20" height="4.20" fill="#1e90ff"/><rect x="221.68" y="172.30" width="4.20" height="4.20" fill="#1e90ff"/><rect x="225.61" y="178.40" width="4.20" height="4.20" fill="#1e90ff"/><rect x="229.31" y="184.90" width="4.20" height="4.20" fill="#1e90ff"/><rect x="232.82" y="189.10" width="4.20" height="4.20" fill="#1e90ff"/><rect x="236.14" y="196.20" width="4.20" height="4.20" fill="#1e90ff"/><rect x="239.31" y="200.90" width="4.20" height="4.20" fill="#1e90ff"/><rect x="242.32" y="203.70" width="4.20" height="4.20" fill="#1e90ff"/><rect x="245.21" y="208.50" width="4.20" height="4.20" fill="#1e90ff"/><rect x="247.97" y="219.40" width="4.20" height="4.20" fill="#1e90ff"/><rect x="250.61" y="219.20" width="4.20" height="4.20" fill="#1e90ff"/><rect x="253.16" y="228.80" width="4.20" height="4.20" fill="#1e90ff"/><rect x="255.60" y="238.80" width="4.20" height="4.20" fill="#1e90ff"/><rect x="257.96" y="243.90" width="4.20" height="4.20" fill="#1e90ff"/><rect x="260.24" y="247.80" width="4.20" height="4.20" fill="#1e90ff"/><rect x="262.43" y="252.60" width="4.20" height="4.20" fill="#1e90ff"/><rect x="264.56" y="266.00" width="4.20" height="4.20" fill="#1e90ff"/><rect x="266.62" y="269.80" width="4.20" height="4.20" fill="#1e90ff"/><rect x="268.61" y="283.80" width="4.20" height="4.20" fill="#1e90ff"/><rect x="270.55" y="281.20" width="4.20" height="4.20" fill="#1e90ff"/><rect x="272.43" y="299.20" width="4.20" height="4.20" fill="#1e90ff"/><rect x="274.26" y="295.30" width="4.20" height="4.20" fill="#1e90ff"/><rect x="276.03" y="309.40" width="4.20" height="4.20" fill="#1e90ff"/><rect x="277.76" y="306.90" width="4.20" height="4.20" fill="#1e90ff"/><rect x="279.45" y="344.10" width="4.20" height="4.20" fill="#1e90ff"/><rect x="281.09" y="335.30" width="4.20" height="4.20" fill="#1e90ff"/><rect x="282.69" y="332.10" width="4.20" height="4.20" fill="#1e90ff"/><rect x="284.25" y="336.60" width="4.20" height="4.20" fill="#1e90ff"/><rect x="285.78" y="357.90" width="4.20" height="4.20" fill="#1e90ff"/></g>
<path d="M44.00 165.30L88.94 167.60L115.23 173.50L133.89 170.30L148.36 168.80L160.18 166.30L170.17 161.70L178.83 155.30L186.47 151.70L193.30 147.60L199.48 144.83L205.12 142.30L210.31 140.90L215.12 139.60L219.59 139.95L223.78 140.28L227.71 141.06L231.41 141.84L234.92 143.11L238.24 143.38L241.41 145.54L244.42 149.02L247.31 152.04L250.07 155.19L252.71 157.37L255.26 159.69L257.70 162.50L260.06 164.99L262.34 167.94L264.53 171.26L266.66 172.85L268.72 175.32L270.71 178.28L272.65 183.76L274.53 186.86L276.36 189.03L278.13 191.33L279.86 193.85L281.55 195.48L283.19 198.73L284.79 198.60L286.35 201.75L287.88 203.06L289.37 206.92L290.82 207.18L292.25 209.74L293.64 212.32L295.01 215.43L296.35 214.45L297.66 215.89L298.94 219.78L300.20 218.84L301.43 222.41L302.65 222.63L303.84 224.87L305.00 224.24L306.15 229.11L307.28 229.08L308.39 230.08L309.48 236.77L310.55 234.64L311.60 239.43L312.64 235.84L313.66 235.51L314.67 237.83L315.66 242.42L316.63 240.10L317.59 242.40L318.54 243.78L319.47 241.86L320.39 245.35L321.30 245.14L322.19 244.67L323.08 250.48L323.95 251.16L324.81 250.98L325.65 249.93L326.49 248.61L327.32 255.16L328.13 254.95L328.94 252.51L329.73 257.12L330.52 254.89L331.29 259.14L332.06 260.46L332.82 261.86L333.57 262.48L334.31 263.30L335.04 261.32L335.77 263.87L336.48 264.48L337.19 265.96L337.89 267.83L338.59 269.10L339.27 271.82L339.95 263.21L340.63 270.07L341.29 269.23L341.95 275.14L342.60 273.40L343.25 266.04L343.88 272.75L344.52 270.35L345.14 275.54L345.76 269.48L346.38 272.88L346.99 273.16L347.59 273.65L348.19 272.41L348.78 268.56L349.37 276.64L349.95 278.86L350.52 275.57L351.10 272.80L351.66 278.52L352.22 281.27L352.78 280.06L353.33 282.07L353.88 288.69L354.42 280.48L354.96 283.40L355.49 279.16L356.02 284.54L356.55 285.21L357.07 285.17L357.59 287.01L358.10 297.64L358.61 290.59L359.11 291.72L359.61 301.89L360.11 293.54L360.60 287.52L361.09 297.25L361.58 292.55L362.06 304.30L362.54 292.96L363.01 296.66L363.48 293.08L363.95 301.33L364.42 297.30L364.88 302.34L365.34 301.80L365.79 301.58L366.24 309.47L366.69 310.32L367.14 307.16L367.58 303.53L368.02 303.53L368.46 310.64L368.89 321.54L369.32 308.81L369.75 308.02L370.17 309.22L370.60 308.04L371.02 309.40L371.43 313.96L371.85 323.03L372.26 316.76L372.67 315.08L373.08 310.32L373.48 320.54L373.88 320.18L374.28 314.81L374.68 316.33L375.07 322.47L375.46 328.72L375.85 327.35L376.24 325.75L376.62 323.54L377.01 327.68L377.39 326.51L377.76 339.37L378.14 322.68L378.51 328.49L378.89 339.26L379.26 332.19L379.62 343.37L379.99 336.55L380.35 339.19L380.71 337.73L381.07 333.29L381.43 336.89L381.78 356.89L382.14 348.87L382.49 349.87L382.84 353.19L383.19 352.11L383.53 356.08L383.88 349.66L384.22 351.37L384.56 360.29L384.90 353.47L385.23 348.40L385.57 356.20L385.90 355.06L386.23 363.29L386.56 355.66L386.89 354.32L387.22 359.87L387.54 372.98L387.87 363.43" stroke="#ff7f00" stroke-width="1" fill="none" stroke-linejoin="round"/>
<g><path d="M44.00 163.70L46.40 168.50L41.60 168.50Z" fill="#ff7f00"/><path d="M88.94 166.00L91.34 170.80L86.54 170.80Z" fill="#ff7f00"/><path d="M115.23 171.90L117.63 176.70L112.83 176.70Z" fill="#ff7f00"/><path d="M133.89 168.70L136.29 173.50L131.49 173.50Z" fill="#ff7f00"/><path d="M148.36 167.20L150.76 172.00L145.96 172.00Z" fill="#ff7f00"/><path d="M160.18 164.70L162.58 169.50L157.78 169.50Z" fill="#ff7f00"/><path d="M170.17 160.10L172.57 164.90L167.77 164.90Z" fill="#ff7f00"/><path d="M178.83 153.70L181.23 158.50L176.43 158.50Z" fill="#ff7f00"/><path d="M186.47 150.10L188.87 154.90L184.07 154.90Z" fill="#ff7f00"/><path d="M193.30 146.00L195.70 150.80L190.90 150.80Z" fill="#ff7f00"/><path d="M199.48 143.23L201.88 148.03L197.08 148.03Z" fill="#ff7f00"/><path d="M205.12 140.70L207.52 145.50L202.72 145.50Z" fill="#ff7f00"/><path d="M210.31 139.30L212.71 144.10L207.91 144.10Z" fill="#ff7f00"/><path d="M215.12 138.00L217.52 142.80L212.72 142.80Z" fill="#ff7f00"/><path d="M219.59 138.35L221.99 143.15L217.19 143.15Z" fill="#ff7f00"/><path d="M223.78 138.68L226.18 143.48L221.38 143.48Z" fill="#ff7f00"/><path d="M227.71 139.46L230.11 144.26L225.31 144.26Z" fill="#ff7f00"/><path d="M231.41 140.24L233.81 145.04L229.01 145.04Z" fill="#ff7f00"/><path d="M234.92 141.51L237.32 146.31L232.52 146.31Z" fill="#ff7f00"/><path d="M238.24 141.78L240.64 146.58L235.84 146.58Z" fill="#ff7f00"/><path d="M241.41 143.94L243.81 148.74L239.01 148.74Z" fill="#ff7f00"/><path d="M244.42 147.42L246.82 152.22L242.02 152.22Z" fill="#ff7f00"/><path d="M247.31 150.44L249.71 155.24L244.91 155.24Z" fill="#ff7f00"/><path d="M250.07 153.59L252.47 158.39L247.67 158.39Z" fill="#ff7f00"/><path d="M252.71 155.77L255.11 160.57L250.31 160.57Z" fill="#ff7f00"/><path d="M255.26 158.09L257.66 162.89L252.86 162.89Z" fill="#ff7f00"/><path d="M257.70 160.90L260.10 165.70L255.30 165.70Z" fill="#ff7f00"/><path d="M260.06 163.39L262.46 168.19L257.66 168.19Z" fill="#ff7f00"/><path d="M262.34 166.34L264.74 171.14L259.94 171.14Z" fill="#ff7f00"/><path d="M264.53 169.66L266.93 174.46L262.13 174.46Z" fill="#ff7f00"/><path d="M266.66 171.25L269.06 176.05L264.26 176.05Z" fill="#ff7f00"/><path d="M268.72 173.72L271.12 178.52L266.32 178.52Z" fill="#ff7f00"/><path d="M270.71 176.68L273.11 181.48L268.31 181.48Z" fill="#ff7f00"/><path d="M272.65 182.16L275.05 186.96L270.25 186.96Z" fill="#ff7f00"/><path d="M274.53 185.26L276.93 190.06L272.13 190.06Z" fill="#ff7f00"/><path d="M276.36 187.43L278.76 192.23L273.96 192.23Z" fill="#ff7f00"/><path d="M278.13 189.73L280.53 194.53L275.73 194.53Z" fill="#ff7f00"/><path d="M279.86 192.25L282.26 197.05L277.46 197.05Z" fill="#ff7f00"/><path d="M281.55 193.88L283.95 198.68L279.15 198.68Z" fill="#ff7f00"/><path d="M283.19 197.13L285.59 201.93L280.79 201.93Z" fill="#ff7f00"/><path d="M284.79 197.00L287.19 201.80L282.39 201.80Z" fill="#ff7f00"/><path d="M286.35 200.15L288.75 204.95L283.95 204.95Z" fill="#ff7f00"/><path d="M287.88 201.46L290.28 206.26L285.48 206.26Z" fill="#ff7f00"/><path d="M289.37 205.32L291.77 210.12L286.97 210.12Z" fill="#ff7f00"/><path d="M290.82 205.58L293.22 210.38L288.42 210.38Z" fill="#ff7f00"/><path d="M292.25 208.14L294.65 212.94L289.85 212.94Z" fill="#ff7f00"/><path d="M293.64 210.72L296.04 215.52L291.24 215.52Z" fill="#ff7f00"/><path d="M295.01 213.83L297.41 218.63L292.61 218.63Z" fill="#ff7f00"/><path d="M296.35 212.85L298.75 217.65L293.95 217.65Z" fill="#ff7f00"/><path d="M297.66 214.29L300.06 219.09L295.26 219.09Z" fill="#ff7f00"/><path d="M298.94 218.18L301.34 222.98L296.54 222.98Z" fill="#ff7f00"/><path d="M300.20 217.24L302.60 222.04L297.80 222.04Z" fill="#ff7f00"/><path d="M301.43 220.81L303.83 225.61L299.03 225.61Z" fill="#ff7f00"/><path d="M302.65 221.03L305.05 225.83L300.25 225.83Z" fill="#ff7f00"/><path d="M303.84 223.27L306.24 228.07L301.44 228.07Z" fill="#ff7f00"/><path d="M305.00 222.64L307.40 227.44L302.60 227.44Z" fill="#ff7f00"/><path d="M306.15 227.51L308.55 232.31L303.75 232.31Z" fill="#ff7f00"/><path d="M307.28 227.48L309.68 232.28L304.88 232.28Z" fill="#ff7f00"/><path d="M308.39 228.48L310.79 233.28L305.99 233.28Z" fill="#ff7f00"/><path d="M309.48 235.17L311.88 239.97L307.08 239.97Z" fill="#ff7f00"/><path d="M310.55 233.04L312.95 237.84L308.15 237.84Z" fill="#ff7f00"/><path d="M311.60 237.83L314.00 242.63L309.20 242.63Z" fill="#ff7f00"/><path d="M312.64 234.24L315.04 239.04L310.24 239.04Z" fill="#ff7f00"/><path d="M313.66 233.91L316.06 238.71L311.26 238.71Z" fill="#ff7f00"/><path d="M314.67 236.23L317.07 241.03L312.27 241.03Z" fill="#ff7f00"/><path d="M315.66 240.82L318.06 245.62L313.26 245.62Z" fill="#ff7f00"/><path d="M316.63 238.50L319.03 243.30L314.23 243.30Z" fill="#ff7f00"/><path d="M317.59 240.80L319.99 245.60L315.19 245.60Z" fill="#ff7f00"/><path d="M318.54 242.18L320.94 246.98L316.14 246.98Z" fill="#ff7f00"/><path d="M319.47 240.26L321.87 245.06L317.07 245.06Z" fill="#ff7f00"/><path d="M320.39 243.75L322.79 248.55L317.99 248.55Z" fill="#ff7f00"/><path d="M321.30 243.54L323.70 248.34L318.90 248.34Z" fill="#ff7f00"/><path d="M322.19 243.07L324.59 247.87L319.79 247.87Z" fill="#ff7f00"/><path d="M323.08 248.88L325.48 253.68L320.68 253.68Z" fill="#ff7f00"/><path d="M323.95 249.56L326.35 254.36L321.55 254.36Z" fill="#ff7f00"/><path d="M324.81 249.38L327.21 254.18L322.41 254.18Z" fill="#ff7f00"/><path d="M325.65 248.33L328.05 253.13L323.25 253.13Z" fill="#ff7f00"/><path d="M326.49 247.01L328.89 251.81L324.09 251.81Z" fill="#ff7f00"/><path d="M327.32 253.56L329.72 258.36L324.92 258.36Z" fill="#ff7f00"/><path d="M328.13 253.35L330.53 258.15L325.73 258.15Z" fill="#ff7f00"/><path d="M328.94 250.91L331.34 255.71L326.54 255.71Z" fill="#ff7f00"/><path d="M329.73 255.52L332.13 260.32L327.33 260.32Z" fill="#ff7f00"/><path d="M330.52 253.29L332.92 258.09L328.12 258.09Z" fill="#ff7f00"/><path d="M331.29 257.54L333.69 262.34L328.89 262.34Z" fill="#ff7f00"/><path d="M332.06 258.86L334.46 263.66L329.66 263.66Z" fill="#ff7f00"/><path d="M332.82 260.26L335.22 265.06L330.42 265.06Z" fill="#ff7f00"/><path d="M333.57 260.88L335.97 265.68L331.17 265.68Z" fill="#ff7f00"/><path d="M334.31 261.70L336.71 266.50L331.91 266.50Z" fill="#ff7f00"/><path d="M335.04 259.72L337.44 264.52L332.64 264.52Z" fill="#ff7f00"/><path d="M335.77 262.27L338.17 267.07L333.37 267.07Z" fill="#ff7f00"/><path d="M336.48 262.88L338.88 267.68L334.08 267.68Z" fill="#ff7f00"/><path d="M337.19 264.36L339.59 269.16L334.79 269.16Z" fill="#ff7f00"/><path d="M337.89 266.23L340.29 271.03L335.49 271.03Z" fill="#ff7f00"/><path d="M338.59 267.50L340.99 272.30L336.19 272.30Z" fill="#ff7f00"/><path d="M339.27 270.22L341.67 275.02L336.87 275.02Z" fill="#ff7f00"/><path d="M339.95 261.61L342.35 266.41L337.55 266.41Z" fill="#ff7f00"/><path d="M340.63 268.47L343.03 273.27L338.23 273.27Z" fill="#ff7f00"/><path d="M341.29 267.63L343.69 272.43L338.89 272.43Z" fill="#ff7f00"/><path d="M341.95 273.54L344.35 278.34L339.55 278.34Z" fill="#ff7f00"/><path d="M342.60 271.80L345.00 276.60L340.20 276.60Z" fill="#ff7f00"/><path d="M343.25 264.44L345.65 269.24L340.85 269.24Z" fill="#ff7f00"/><path d="M343.88 271.15L346.28 275.95L341.48 275.95Z" fill="#ff7f00"/><path d="M344.52 268.75L346.92 273.55L342.12 273.55Z" fill="#ff7f00"/><path d="M345.14 273.94L347.54 278.74L342.74 278.74Z" fill="#ff7f00"/><path d="M345.76 267.88L348.16 272.68L343.36 272.68Z" fill="#ff7f00"/><path d="M346.38 271.28L348.78 276.08L343.98 276.08Z" fill="#ff7f00"/><path d="M346.99 271.56L349.39 276.36L344.59 276.36Z" fill="#ff7f00"/><path d="M347.59 272.05L349.99 276.85L345.19 276.85Z" fill="#ff7f00"/><path d="M348.19 270.81L350.59 275.61L345.79 275.61Z" fill="#ff7f00"/><path d="M348.78 266.96L351.18 271.76L346.38 271.76Z" fill="#ff7f00"/><path d="M349.37 275.04L351.77 279.84L346.97 279.84Z" fill="#ff7f00"/><path d="M349.95 277.26L352.35 282.06L347.55 282.06Z" fill="#ff7f00"/><path d="M350.52 273.97L352.92 278.77L348.12 278.77Z" fill="#ff7f00"/><path d="M351.10 271.20L353.50 276.00L348.70 276.00Z" fill="#ff7f00"/><path d="M351.66 276.92L354.06 281.72L349.26 281.72Z" fill="#ff7f00"/><path d="M352.22 279.67L354.62 284.47L349.82 284.47Z" fill="#ff7f00"/><path d="M352.78 278.46L355.18 283.26L350.38 283.26Z" fill="#ff7f00"/><path d="M353.33 280.47L355.73 285.27L350.93 285.27Z" fill="#ff7f00"/><path d="M353.88 287.09L356.28 291.89L351.48 291.89Z" fill="#ff7f00"/><path d="M354.42 278.88L356.82 283.68L352.02 283.68Z" fill="#ff7f00"/><path d="M354.96 281.80L357.36 286.60L352.56 286.60Z" fill="#ff7f00"/><path d="M355.49 277.56L357.89 282.36L353.09 282.36Z" fill="#ff7f00"/><path d="M356.02 282.94L358.42 287.74L353.62 287.74Z" fill="#ff7f00"/><path d="M356.55 283.61L358.95 288.41L354.15 288.41Z" fill="#ff7f00"/><path d="M357.07 283.57L359.47 288.37L354.67 288.37Z" fill="#ff7f00"/><path d="M357.59 285.41L359.99 290.21L355.19 290.21Z" fill="#ff7f00"/><path d="M358.10 296.04L360.50 300.84L355.70 300.84Z" fill="#ff7f00"/><path d="M358.61 288.99L361.01 293.79L356.21 293.79Z" fill="#ff7f00"/><path d="M359.11 290.12L361.51 294.92L356.71 294.92Z" fill="#ff7f00"/><path d="M359.61 300.29L362.01 305.09L357.21 305.09Z" fill="#ff7f00"/><path d="M360.11 291.94L362.51 296.74L357.71 296.74Z" fill="#ff7f00"/><path d="M360.60 285.92L363.00 290.72L358.20 290.72Z" fill="#ff7f00"/><path d="M361.09 295.65L363.49 300.45L358.69 300.45Z" fill="#ff7f00"/><path d="M361.58 290.95L363.98 295.75L359.18 295.75Z" fill="#ff7f00"/><path d="M362.06 302.70L364.46 307.50L359.66 307.50Z" fill="#ff7f00"/><path d="M362.54 291.36L364.94 296.16L360.14 296.16Z" fill="#ff7f00"/><path d="M363.01 295.06L365.41 299.86L360.61 299.86Z" fill="#ff7f00"/><path d="M363.48 291.48L365.88 296.28L361.08 296.28Z" fill="#ff7f00"/><path d="M363.95 299.73L366.35 304.53L361.55 304.53Z" fill="#ff7f00"/><path d="M364.42 295.70L366.82 300.50L362.02 300.50Z" fill="#ff7f00"/><path d="M364.88 300.74L367.28 305.54L362.48 305.54Z" fill="#ff7f00"/><path d="M365.34 300.20L367.74 305.00L362.94 305.00Z" fill="#ff7f00"/><path d="M365.79 299.98L368.19 304.78L363.39 304.78Z" fill="#ff7f00"/><path d="M366.24 307.87L368.64 312.67L363.84 312.67Z" fill="#ff7f00"/><path d="M366.69 308.72L369.09 313.52L364.29 313.52Z" fill="#ff7f00"/><path d="M367.14 305.56L369.54 310.36L364.74 310.36Z" fill="#ff7f00"/><path d="M367.58 301.93L369.98 306.73L365.18 306.73Z" fill="#ff7f00"/><path d="M368.02 301.93L370.42 306.73L365.62 306.73Z" fill="#ff7f00"/><path d="M368.46 309.04L370.86 313.84L366.06 313.84Z" fill="#ff7f00"/><path d="M368.89 319.94L371.29 324.74L366.49 324.74Z" fill="#ff7f00"/><path d="M369.32 307.21L371.72 312.01L366.92 312.01Z" fill="#ff7f00"/><path d="M369.75 306.42L372.15 311.22L367.35 311.22Z" fill="#ff7f00"/><path d="M370.17 307.62L372.57 312.42L367.77 312.42Z" fill="#ff7f00"/><path d="M370.60 306.44L373.00 311.24L368.20 311.24Z" fill="#ff7f00"/><path d="M371.02 307.80L373.42 312.60L368.62 312.60Z" fill="#ff7f00"/><path d="M371.43 312.36L373.83 317.16L369.03 317.16Z" fill="#ff7f00"/><path d="M371.85 321.43L374.25 326.23L369.45 326.23Z" fill="#ff7f00"/><path d="M372.26 315.16L374.66 319.96L369.86 319.96Z" fill="#ff7f00"/><path d="M372.67 313.48L375.07 318.28L370.27 318.28Z" fill="#ff7f00"/><path d="M373.08 308.72L375.48 313.52L370.68 313.52Z" fill="#ff7f00"/><path d="M373.48 318.94L375.88 323.74L371.08 323.74Z" fill="#ff7f00"/><path d="M373.88 318.58L376.28 323.38L371.48 323.38Z" fill="#ff7f00"/><path d="M374.28 313.21L376.68 318.01L371.88 318.01Z" fill="#ff7f00"/><path d="M374.68 314.73L377.08 319.53L372.28 319.53Z" fill="#ff7f00"/><path d="M375.07 320.87L377.47 325.67L372.67 325.67Z" fill="#ff7f00"/><path d="M375.46 327.12L377.86 331.92L373.06 331.92Z" fill="#ff7f00"/><path d="M375.85 325.75L378.25 330.55L373.45 330.55Z" fill="#ff7f00"/><path d="M376.24 324.15L378.64 328.95L373.84 328.95Z" fill="#ff7f00"/><path d="M376.62 321.94L379.02 326.74L374.22 326.74Z" fill="#ff7f00"/><path d="M377.01 326.08L379.41 330.88L374.61 330.88Z" fill="#ff7f00"/><path d="M377.39 324.91L379.79 329.71L374.99 329.71Z" fill="#ff7f00"/><path d="M377.76 337.77L380.16 342.57L375.36 342.57Z" fill="#ff7f00"/><path d="M378.14 321.08L380.54 325.88L375.74 325.88Z" fill="#ff7f00"/><path d="M378.51 326.89L380.91 331.69L376.11 331.69Z" fill="#ff7f00"/><path d="M378.89 337.66L381.29 342.46L376.49 342.46Z" fill="#ff7f00"/><path d="M379.26 330.59L381.66 335.39L376.86 335.39Z" fill="#ff7f00"/><path d="M379.62 341.77L382.02 346.57L377.22 346.57Z" fill="#ff7f00"/><path d="M379.99 334.95L382.39 339.75L377.59 339.75Z" fill="#ff7f00"/><path d="M380.35 337.59L382.75 342.39L377.95 342.39Z" fill="#ff7f00"/><path d="M380.71 336.13L383.11 340.93L378.31 340.93Z" fill="#ff7f00"/><path d="M381.07 331.69L383.47 336.49L378.67 336.49Z" fill="#ff7f00"/><path d="M381.43 335.29L383.83 340.09L379.03 340.09Z" fill="#ff7f00"/><path d="M381.78 355.29L384.18 360.09L379.38 360.09Z" fill="#ff7f00"/><path d="M382.14 347.27L384.54 352.07L379.74 352.07Z" fill="#ff7f00"/><path d="M382.49 348.27L384.89 353.07L380.09 353.07Z" fill="#ff7f00"/><path d="M382.84 351.59L385.24 356.39L380.44 356.39Z" fill="#ff7f00"/><path d="M383.19 350.51L385.59 355.31L380.79 355.31Z" fill="#ff7f00"/><path d="M383.53 354.48L385.93 359.28L381.13 359.28Z" fill="#ff7f00"/><path d="M383.88 348.06L386.28 352.86L381.48 352.86Z" fill="#ff7f00"/><path d="M384.22 349.77L386.62 354.57L381.82 354.57Z" fill="#ff7f00"/><path d="M384.56 358.69L386.96 363.49L382.16 363.49Z" fill="#ff7f00"/><path d="M384.90 351.87L387.30 356.67L382.50 356.67Z" fill="#ff7f00"/><path d="M385.23 346.80L387.63 351.60L382.83 351.60Z" fill="#ff7f00"/><path d="M385.57 354.60L387.97 359.40L383.17 359.40Z" fill="#ff7f00"/><path d="M385.90 353.46L388.30 358.26L383.50 358.26Z" fill="#ff7f00"/><path d="M386.23 361.69L388.63 366.49L383.83 366.49Z" fill="#ff7f00"/><path d="M386.56 354.06L388.96 358.86L384.16 358.86Z" fill="#ff7f00"/><path d="M386.89 352.72L389.29 357.52L384.49 357.52Z" fill="#ff7f00"/><path d="M387.22 358.27L389.62 363.07L384.82 363.07Z" fill="#ff7f00"/><path d="M387.54 371.38L389.94 376.18L385.14 376.18Z" fill="#ff7f00"/><path d="M387.87 361.83L390.27 366.63L385.47 366.63Z" fill="#ff7f00"/></g>
<path d="M44.00 98.30L88.94 88.80L115.23 86.00L133.89 89.40L148.36 97.00L160.18 106.50L170.17 119.40L178.83 132.90L186.47 144.90L193.30 157.10L199.48 166.70L205.12 176.90L210.31 182.70L215.12 189.50L219.59 196.60L223.78 201.40L227.71 211.70L231.41 214.20L234.92 219.40L238.24 229.80L241.41 237.40L244.42 240.30L247.31 245.80L250.07 256.00L252.71 256.30L255.26 270.10L257.70 280.50L260.06 290.80L262.34 288.60L264.53 317.10L266.66 307.10L268.72 321.30L270.71 347.40L272.65 352.60L274.53 359.10" stroke="#228b22" stroke-width="1" fill="none" stroke-linejoin="round"/>
<g><path d="M44.00 96.70L46.40 101.50L41.60 101.50Z" fill="#228b22"/><path d="M88.94 87.20L91.34 92.00L86.54 92.00Z" fill="#228b22"/><path d="M115.23 84.40L117.63 89.20L112.83 89.20Z" fill="#228b22"/><path d="M133.89 87.80L136.29 92.60L131.49 92.60Z" fill="#228b22"/><path d="M148.36 95.40L150.76 100.20L145.96 100.20Z" fill="#228b22"/><path d="M160.18 104.90L162.58 109.70L157.78 109.70Z" fill="#228b22"/><path d="M170.17 117.80L172.57 122.60L167.77 122.60Z" fill="#228b22"/><path d="M178.83 131.30L181.23 136.10L176.43 136.10Z" fill="#228b22"/><path d="M186.47 143.30L188.87 148.10L184.07 148.10Z" fill="#228b22"/><path d="M193.30 155.50L195.70 160.30L190.90 160.30Z" fill="#228b22"/><path d="M199.48 165.10L201.88 169.90L197.08 169.90Z" fill="#228b22"/><path d="M205.12 175.30L207.52 180.10L202.72 180.10Z" fill="#228b22"/><path d="M210.31 181.10L212.71 185.90L207.91 185.90Z" fill="#228b22"/><path d="M215.12 187.90L217.52 192.70L212.72 192.70Z" fill="#228b22"/><path d="M219.59 195.00L221.99 199.80L217.19 199.80Z" fill="#228b22"/><path d="M223.78 199.80L226.18 204.60L221.38 204.60Z" fill="#228b22"/><path d="M227.71 210.10L230.11 214.90L225.31 214.90Z" fill="#228b22"/><path d="M231.41 212.60L233.81 217.40L229.01 217.40Z" fill="#228b22"/><path d="M234.92 217.80L237.32 222.60L232.52 222.60Z" fill="#228b22"/><path d="M238.24 228.20L240.64 233.00L235.84 233.00Z" fill="#228b22"/><path d="M241.41 235.80L243.81 240.60L239.01 240.60Z" fill="#228b22"/><path d="M244.42 238.70L246.82 243.50L242.02 243.50Z" fill="#228b22"/><path d="M247.31 244.20L249.71 249.00L244.91 249.00Z" fill="#228b22"/><path d="M250.07 254.40L252.47 259.20L247.67 259.20Z" fill="#228b22"/><path d="M252.71 254.70L255.11 259.50L250.31 259.50Z" fill="#228b22"/><path d="M255.26 268.50L257.66 273.30L252.86 273.30Z" fill="#228b22"/><path d="M257.70 278.90L260.10 283.70L255.30 283.70Z" fill="#228b22"/><path d="M260.06 289.20L262.46 294.00L257.66 294.00Z" fill="#228b22"/><path d="M262.34 287.00L264.74 291.80L259.94 291.80Z" fill="#228b22"/><path d="M264.53 315.50L266.93 320.30L262.13 320.30Z" fill="#228b22"/><path d="M266.66 305.50L269.06 310.30L264.26 310.30Z" fill="#228b22"/><path d="M268.72 319.70L271.12 324.50L266.32 324.50Z" fill="#228b22"/><path d="M270.71 345.80L273.11 350.60L268.31 350.60Z" fill="#228b22"/><path d="M272.65 351.00L275.05 355.80L270.25 355.80Z" fill="#228b22"/><path d="M274.53 357.50L276.93 362.30L272.13 362.30Z" fill="#228b22"/></g>
</g>
<path d="M44.0 98.55h4.1M44.0 72.74h4.1M44.0 57.64h4.1M44.0 46.92h4.1M44.0 38.61h4.1M44.0 31.82h4.1M44.0 26.08h4.1M44.0 21.11h4.1M44.0 16.72h4.1M44.0 184.30h4.1M44.0 158.49h4.1M44.0 143.39h4.1M44.0 132.67h4.1M44.0 124.36h4.1M44.0 117.57h4.1M44.0 111.83h4.1M44.0 106.86h4.1M44.0 102.47h4.1M44.0 270.05h4.1M44.0 244.24h4.1M44.0 229.14h4.1M44.0 218.42h4.1M44.0 210.11h4.1M44.0 203.32h4.1M44.0 197.58h4.1M44.0 192.61h4.1M44.0 188.22h4.1M44.0 329.99h4.1M44.0 314.89h4.1M44.0 304.17h4.1M44.0 295.86h4.1M44.0 289.07h4.1M44.0 283.33h4.1M44.0 278.36h4.1M44.0 273.97h4.1M88.94 355.8v-3.6M115.23 355.8v-3.6M133.89 355.8v-3.6M148.36 355.8v-3.6M160.18 355.8v-3.6M170.17 355.8v-3.6M178.83 355.8v-3.6M186.47 355.8v-3.6M193.30 355.8v-3.6M238.24 355.8v-3.6M264.53 355.8v-3.6M283.19 355.8v-3.6M297.66 355.8v-3.6M309.48 355.8v-3.6M319.47 355.8v-3.6M328.13 355.8v-3.6M335.77 355.8v-3.6M342.60 355.8v-3.6M387.54 355.8v-3.6" stroke="#000" stroke-width="1.5" fill="none"/>
<rect x="44.0" y="12.8" width="344.0" height="343.0" fill="none" stroke="#000" stroke-width="2.2"/>
<ellipse cx="252.71" cy="355.40" rx="2.3" ry="1.2" fill="#e00000"/>
<ellipse cx="274.53" cy="355.40" rx="2.3" ry="1.2" fill="#e00000"/>
<ellipse cx="287.88" cy="355.40" rx="2.3" ry="1.2" fill="#e00000"/>
<ellipse cx="292.25" cy="355.40" rx="2.3" ry="1.2" fill="#e00000"/>
<ellipse cx="388.00" cy="355.80" rx="1.6" ry="1.2" fill="#e00000"/>
<text x="39.3" y="20.2" font-size="19" text-anchor="end">1</text>
<text x="5" y="105.5" font-size="19">10</text><text x="25.4" y="97.8" font-size="13">−1</text>
<text x="5" y="191.3" font-size="19">10</text><text x="25.4" y="183.5" font-size="13">−2</text>
<text x="5" y="277.1" font-size="19">10</text><text x="25.4" y="269.2" font-size="13">−3</text>
<text x="5" y="362.8" font-size="19">10</text><text x="25.4" y="355.0" font-size="13">−4</text>
<text x="44.0" y="377" font-size="19" text-anchor="middle">1</text>
<text x="193.3" y="377" font-size="19" text-anchor="middle">10</text>
<text x="342.6" y="377" font-size="19" text-anchor="middle">100</text>
<text x="196.6" y="396.8" font-size="19" text-anchor="middle">n</text>
<text x="51.3" y="35.6" font-size="19.5" textLength="253.4" lengthAdjust="spacing">Particle Multiplicity: 1/<tspan font-style="italic">σ</tspan> d<tspan font-style="italic">σ</tspan>/dn</text>
<text x="71" y="237.2" font-size="17" font-style="italic">π</text><text x="82.4" y="232.4" font-size="11">0</text>
<text x="99.5" y="237.2" font-size="17" font-style="italic">η</text>
<path d="M64.3 258.1H87.89999999999999" stroke="#ff0000" stroke-width="1"/>
<circle cx="76.1" cy="258.1" r="6" fill="#ff0000"/>
<path d="M95.5 258.1H119.1" stroke="#0000ff" stroke-width="1"/>
<circle cx="107.3" cy="258.1" r="6" fill="#0000ff"/>
<text x="130.8" y="260" font-size="16.3">EPOS–LHC</text>
<path d="M64.3 287.8H87.89999999999999" stroke="#ff00ff" stroke-width="1"/>
<rect x="72.0" y="283.7" width="8.2" height="8.2" fill="#ff00ff"/>
<path d="M95.5 287.8H119.1" stroke="#1e90ff" stroke-width="1"/>
<rect x="103.2" y="283.7" width="8.2" height="8.2" fill="#1e90ff"/>
<text x="130.8" y="290.2" font-size="16.3">QGSJETII–04</text>
<path d="M64.3 318.6H87.89999999999999" stroke="#ff7f00" stroke-width="1"/>
<path d="M76.1 315.20000000000005L81.5 325.40000000000003L70.69999999999999 325.40000000000003Z" fill="#ff7f00"/>
<path d="M95.5 318.6H119.1" stroke="#228b22" stroke-width="1"/>
<path d="M107.3 315.20000000000005L112.7 325.40000000000003L101.89999999999999 325.40000000000003Z" fill="#228b22"/>
<text x="130.8" y="321.5" font-size="16.3">SIBYLL 2.3</text>
</svg>
</body></html>
